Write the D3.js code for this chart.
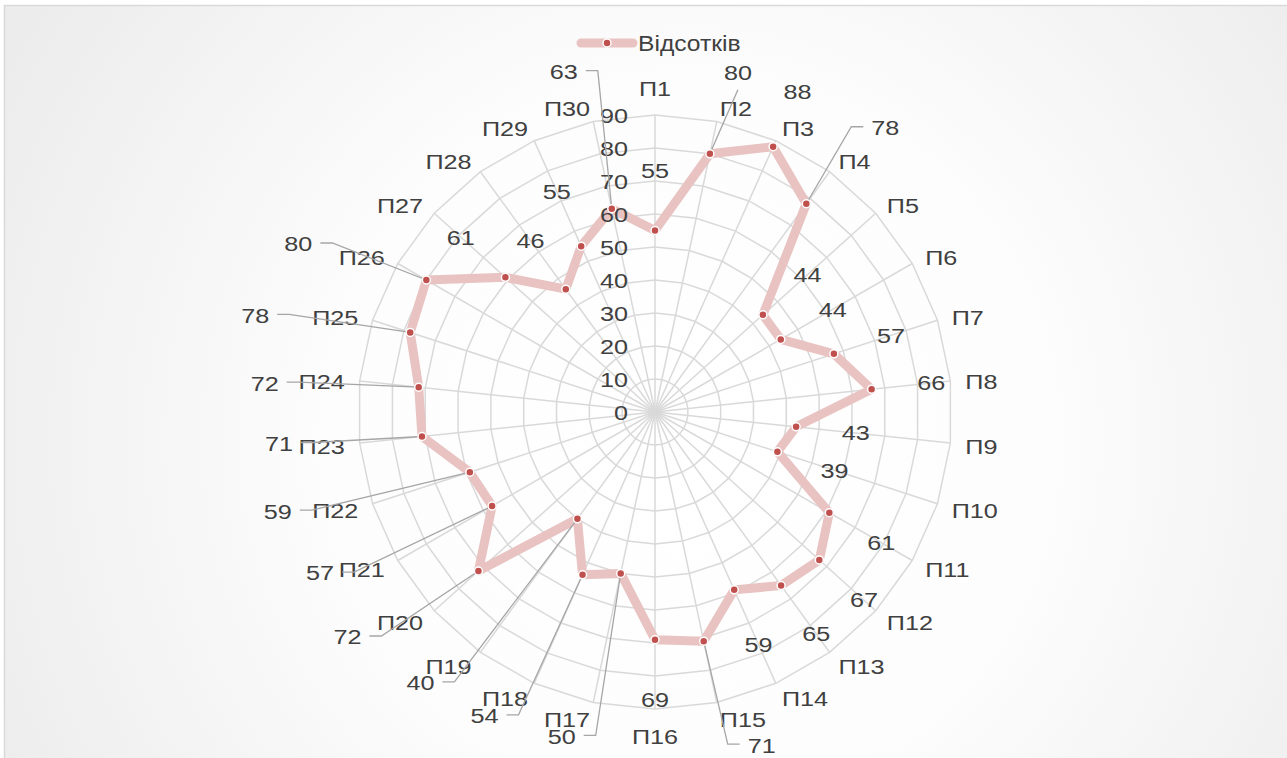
<!DOCTYPE html>
<html>
<head>
<meta charset="utf-8">
<script src="https://cdn.jsdelivr.net/npm/d3@7"></script>
<style>
  html, body { margin: 0; padding: 0; background: #ffffff; }
  svg { display: block; }
  text { font-family: "Liberation Sans", Arial, sans-serif; fill: #404040; }
</style>
</head>
<body>
<svg id="chart" width="1287" height="758"></svg>
<script>
// ---------------- data ----------------
const categories = ["П1","П2","П3","П4","П5","П6","П7","П8","П9","П10",
                    "П11","П12","П13","П14","П15","П16","П17","П18","П19","П20",
                    "П21","П22","П23","П24","П25","П26","П27","П28","П29","П30"];
const values = [55, 80, 88, 78, 44, 44, 57, 66, 43, 39,
                61, 67, 65, 59, 71, 69, 50, 54, 40, 72,
                57, 59, 71, 72, 78, 80, 61, 46, 55, 63];
const radialTicks = [0, 10, 20, 30, 40, 50, 60, 70, 80, 90];
const seriesName = "Відсотків";

// ---------------- layout ----------------
const W = 1287, H = 758;
const cx = 655, cy = 412;
const outerR = 297;
const catLabelR = 312;
const labelGap = 60;
const fontSize = 21;
const sx = 1.2;           // horizontal text stretch seen in the reference
const lineColor = "#e8c3c2";
const markerColor = "#c0504d";
const gridColor = "#d9d9d9";
const leaderColor = "#a6a6a6";

// manually moved data labels (offset of label centre from its point, px)
const movedLabels = {
  1: [28, -81], 3: [79, -76], 14: [58, 104], 16: [-59, 163], 17: [-98, 141],
  18: [-157, 164], 19: [-131, 66], 20: [-172, 67], 21: [-192, 39], 22: [-143, 7],
  23: [-154, -4], 24: [-155, -17], 25: [-128, -36], 29: [-48, -137]
};

const svg = d3.select("#chart");
const defs = svg.append("defs");
const grad = defs.append("radialGradient").attr("id", "bg")
  .attr("gradientUnits", "userSpaceOnUse")
  .attr("cx", 690).attr("cy", 440).attr("r", 780);
grad.append("stop").attr("offset", "0%").attr("stop-color", "#ffffff");
grad.append("stop").attr("offset", "45%").attr("stop-color", "#fdfdfd");
grad.append("stop").attr("offset", "100%").attr("stop-color", "#ececec");

svg.append("rect").attr("x", 0).attr("y", 0).attr("width", W).attr("height", H).attr("fill", "#ffffff");
svg.append("rect").attr("x", 4.5).attr("y", 5.5).attr("width", W + 10).attr("height", H + 10)
  .attr("fill", "url(#bg)").attr("stroke", "#d9d9d9").attr("stroke-width", 1.5);

const n = categories.length;
const angle = d3.scaleLinear().domain([0, n]).range([0, 2 * Math.PI]);
const r = d3.scaleLinear().domain([0, d3.max(radialTicks)]).range([0, outerR]);

function pos(i, rad) {
  const a = angle(i);
  return [cx + rad * Math.sin(a), cy - rad * Math.cos(a)];
}

function addText(g, x, y, str, anchor) {
  return g.append("text")
    .attr("transform", `translate(${x},${y}) scale(${sx},1)`)
    .attr("text-anchor", anchor)
    .attr("dy", "0.35em")
    .attr("font-size", fontSize)
    .text(str);
}

const plot = svg.append("g");

// grid rings (polygons)
const ringLine = d3.lineRadial()
  .angle((d, i) => angle(i))
  .radius(d => r(d))
  .curve(d3.curveLinearClosed);
radialTicks.filter(t => t > 0).forEach(t => {
  plot.append("path")
    .attr("transform", `translate(${cx},${cy})`)
    .attr("d", ringLine(categories.map(() => t)))
    .attr("fill", "none").attr("stroke", gridColor).attr("stroke-width", 1.5);
});
// spokes
plot.selectAll(".spoke").data(categories).join("line")
  .attr("class", "spoke")
  .attr("x1", cx).attr("y1", cy)
  .attr("x2", (d, i) => pos(i, r(d3.max(radialTicks)))[0])
  .attr("y2", (d, i) => pos(i, r(d3.max(radialTicks)))[1])
  .attr("stroke", gridColor).attr("stroke-width", 1.5);

// radial tick labels
const tickG = svg.append("g");
radialTicks.forEach(t => {
  addText(tickG, cx - 27, cy - r(t) + 1, String(t), "end");
});

// category labels
const catG = svg.append("g");
categories.forEach((c, i) => {
  const deg = i * 360 / n;
  const [x, y] = pos(i, catLabelR);
  if (deg === 0) addText(catG, x, y - 11, c, "middle");
  else if (deg === 180) addText(catG, x, y + 13, c, "middle");
  else if (deg < 180) addText(catG, x, y + 2, c, "start");
  else addText(catG, x, y + 2, c, "end");
});

// series line
const seriesLine = d3.lineRadial()
  .angle((d, i) => angle(i))
  .radius(d => r(d))
  .curve(d3.curveLinearClosed);
plot.append("path")
  .attr("transform", `translate(${cx},${cy})`)
  .attr("d", seriesLine(values))
  .attr("fill", "none").attr("stroke", lineColor)
  .attr("stroke-width", 9).attr("stroke-linejoin", "round");

// leader lines + data labels
const labG = svg.append("g");
const leadG = svg.append("g");
values.forEach((v, i) => {
  const [px, py] = pos(i, r(v));
  if (movedLabels[i]) {
    const [dx, dy] = movedLabels[i];
    const lx = px + dx, ly = py + dy;
    let pts;
    if (Math.abs(dx) < 40 && dy < 0) {
      pts = [[px, py], [lx, ly + 17]];
    } else {
      const s = dx < 0 ? 1 : -1;
      pts = [[px, py], [lx + s * 34, ly - 1], [lx + s * 22, ly - 1]];
    }
    leadG.append("path")
      .attr("d", d3.line()(pts))
      .attr("fill", "none").attr("stroke", leaderColor).attr("stroke-width", 1.3);
    addText(labG, lx, ly, String(v), "middle");
  } else {
    const [lx, ly] = pos(i, r(v) + labelGap);
    addText(labG, lx, ly, String(v), "middle");
  }
});

// markers
svg.append("g").selectAll("circle").data(values).join("circle")
  .attr("cx", (d, i) => pos(i, r(d))[0])
  .attr("cy", (d, i) => pos(i, r(d))[1])
  .attr("r", 4)
  .attr("fill", markerColor)
  .attr("stroke", "#ffffff").attr("stroke-width", 1.5);

// legend
const leg = svg.append("g");
leg.append("line").attr("x1", 581).attr("x2", 633).attr("y1", 43).attr("y2", 43)
  .attr("stroke", lineColor).attr("stroke-width", 9).attr("stroke-linecap", "round");
leg.append("circle").attr("cx", 607).attr("cy", 43).attr("r", 4)
  .attr("fill", markerColor).attr("stroke", "#ffffff").attr("stroke-width", 1.5);
leg.append("text")
  .attr("transform", `translate(638,43) scale(1.12,1)`)
  .attr("text-anchor", "start").attr("dy", "0.35em")
  .attr("font-size", 22)
  .text(seriesName);
</script>
</body>
</html>
